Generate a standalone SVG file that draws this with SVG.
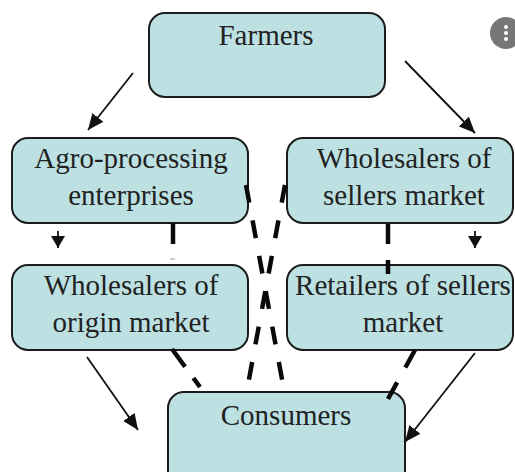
<svg xmlns="http://www.w3.org/2000/svg" width="515" height="472" viewBox="0 0 515 472">
  <defs>
    <style>
      .box { fill: #bde1e2; stroke: #1c1c1c; stroke-width: 2; }
      .label { font-family: "Liberation Serif", "Times New Roman", serif; font-size: 29px; fill: #222; text-anchor: middle; }
      .arrow { stroke: #111; stroke-width: 1.8; fill: none; }
      .dash { stroke: #0a0a0a; stroke-width: 4.5; fill: none; stroke-linecap: butt; }
    </style>
    <marker id="head" markerUnits="userSpaceOnUse" markerWidth="16" markerHeight="14" refX="16" refY="7" orient="auto">
      <path d="M0,0 L16,7 L0,14 Z" fill="#111"/>
    </marker>
    <marker id="headSmall" markerUnits="userSpaceOnUse" markerWidth="12" markerHeight="14" refX="12" refY="7" orient="auto">
      <path d="M0,0 L12,7 L0,14 Z" fill="#111"/>
    </marker>
  </defs>

  <rect width="515" height="472" fill="#ffffff"/>

  <!-- menu badge -->
  <g id="menu-badge">
    <circle cx="506" cy="33" r="16" fill="#777"/>
    <circle cx="506" cy="27" r="2" fill="#fff"/>
    <circle cx="506" cy="33" r="2" fill="#fff"/>
    <circle cx="506" cy="39" r="2" fill="#fff"/>
  </g>

  <g id="farmers">
    <rect class="box" x="149" y="13" width="236" height="84" rx="16"/>
    <text class="label" x="266" y="45">Farmers</text>
  </g>

  <g id="agro-processing">
    <rect class="box" x="12" y="138" width="236" height="85" rx="16"/>
    <text class="label" x="131" y="168">Agro-processing</text>
    <text class="label" x="131" y="205">enterprises</text>
  </g>

  <g id="wholesalers-sellers">
    <rect class="box" x="287" y="138" width="226" height="85" rx="16"/>
    <text class="label" x="404" y="168">Wholesalers of</text>
    <text class="label" x="404" y="205">sellers market</text>
  </g>

  <g id="wholesalers-origin">
    <rect class="box" x="12" y="265" width="236" height="85" rx="16"/>
    <text class="label" x="131" y="295">Wholesalers of</text>
    <text class="label" x="131" y="332">origin market</text>
  </g>

  <g id="retailers-sellers">
    <rect class="box" x="287" y="265" width="226" height="85" rx="16"/>
    <text class="label" x="403" y="295">Retailers of sellers</text>
    <text class="label" x="403" y="332">market</text>
  </g>

  <g id="consumers">
    <rect class="box" x="168" y="392" width="237" height="100" rx="16"/>
    <text class="label" x="286" y="425">Consumers</text>
  </g>

  <g id="connectors">
    <!-- solid arrows -->
    <line class="arrow" x1="133" y1="73" x2="88" y2="130" marker-end="url(#head)"/>
    <line class="arrow" x1="405" y1="61" x2="475" y2="133" marker-end="url(#head)"/>
    <line class="arrow" x1="58" y1="231" x2="58" y2="248" marker-end="url(#headSmall)"/>
    <line class="arrow" x1="475" y1="231" x2="475" y2="248" marker-end="url(#headSmall)"/>
    <line class="arrow" x1="87" y1="357" x2="138" y2="430" marker-end="url(#head)"/>
    <line class="arrow" x1="475" y1="353" x2="405" y2="442" marker-end="url(#head)"/>

    <!-- dashed links -->
    <line class="dash" x1="246" y1="185" x2="284" y2="390" stroke-dasharray="18 18"/>
    <line class="dash" x1="285" y1="185" x2="247" y2="390" stroke-dasharray="18 18"/>
    <line class="dash" x1="173" y1="223" x2="173" y2="244"/>
    <line x1="170" y1="259" x2="175" y2="259" stroke="#999" stroke-width="1"/>
    <line class="dash" x1="388" y1="224" x2="388" y2="274" stroke-dasharray="20 16"/>
    <line class="dash" x1="172" y1="349" x2="200" y2="387" stroke-dasharray="22 14"/>
    <line class="dash" x1="415" y1="350" x2="388" y2="399" stroke-dasharray="20 17"/>
  </g>
</svg>
